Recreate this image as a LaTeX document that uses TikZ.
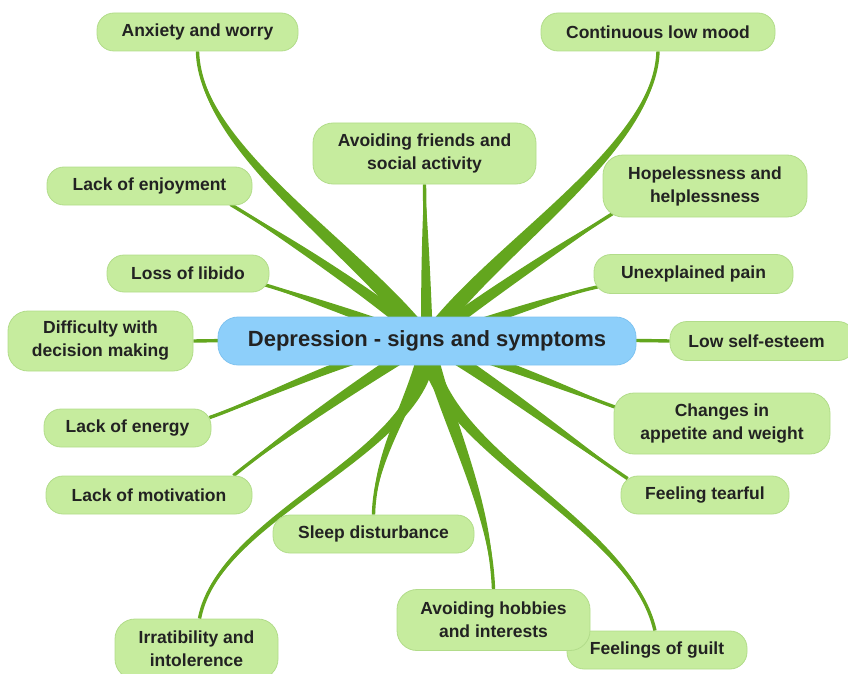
\documentclass[tikz,border=0pt]{standalone}
\usepackage{fontspec}
\setmainfont{Liberation Sans}
\usetikzlibrary{calc}
\pgfdeclarelayer{bg}
\pgfsetlayers{bg,main}
\definecolor{leaf}{HTML}{C6EC9E}
\definecolor{leafedge}{HTML}{B2DC8A}
\definecolor{hub}{HTML}{8DCFFA}
\definecolor{hubedge}{HTML}{7FC3F0}
\definecolor{stem}{HTML}{63A61E}
\definecolor{ink}{HTML}{222222}
\newcommand\stemto[5]{%
  \pgfmathsetmacro\wa{0.85*#5}%
  \pgfmathsetmacro\wb{0.55*#5}%
  \fill[stem] ($(#1)!#5pt!90:(#2)$) .. controls ($(#2)!\wa pt!-90:(#1)$) and ($(#3)!\wb pt!90:(#4)$) .. (#4)
     .. controls ($(#3)!\wb pt!-90:(#4)$) and ($(#2)!\wa pt!90:(#1)$) .. ($(#1)!#5pt!-90:(#2)$) -- cycle;
  \draw[stem, line width=3.4pt] (#1) .. controls (#2) and (#3) .. (#4);
}
\begin{document}
\begin{tikzpicture}[x=1pt,y=-1pt,
  leafnode/.style={draw=leafedge, line width=0.8pt, fill=leaf, rounded corners=17pt, text=ink,
    font=\bfseries\fontsize{17.5}{23}\selectfont, align=center, inner sep=0pt},
  hubnode/.style={draw=hubedge, line width=0.8pt, fill=hub, rounded corners=20pt, text=ink,
    font=\bfseries\fontsize{22}{26}\selectfont, inner sep=0pt}]
\useasboundingbox (0,0) rectangle (848,674);

\node[hubnode, minimum width=418pt, minimum height=48pt] (ctr) at (427,341) {Depression - signs and symptoms};

\node[leafnode, minimum width=201pt, minimum height=38pt] (anx) at (197.5,32) {Anxiety and worry};
\node[leafnode, minimum width=234pt, minimum height=38pt] (clm) at (658,32) {Continuous low mood};
\node[leafnode, minimum width=223pt, minimum height=61pt, rounded corners=20pt] (afr) at (424.5,153.5) {Avoiding friends and\\social activity};
\node[leafnode, minimum width=204pt, minimum height=62pt, rounded corners=20pt] (hop) at (705,186) {Hopelessness and\\helplessness};
\node[leafnode, minimum width=205pt, minimum height=38pt] (enj) at (149.5,186) {Lack of enjoyment};
\node[leafnode, minimum width=162pt, minimum height=37pt] (lib) at (188,273.5) {Loss of libido};
\node[leafnode, minimum width=199pt, minimum height=39pt] (pain) at (693.5,274) {Unexplained pain};
\node[leafnode, minimum width=185pt, minimum height=60pt, rounded corners=20pt] (dec) at (100.5,341) {Difficulty with\\decision making};
\node[leafnode, minimum width=185pt, minimum height=39pt] (self) at (762.5,341) {\hspace*{-12pt}Low self-esteem};
\node[leafnode, minimum width=167pt, minimum height=38pt] (ene) at (127.5,428) {Lack of energy};
\node[leafnode, minimum width=216pt, minimum height=61pt, rounded corners=20pt] (app) at (722,423.5) {Changes in\\appetite and weight};
\node[leafnode, minimum width=206pt, minimum height=38pt] (mot) at (149,495) {Lack of motivation};
\node[leafnode, minimum width=168pt, minimum height=38pt] (tear) at (705,495) {Feeling tearful};
\node[leafnode, minimum width=201pt, minimum height=38pt] (sleep) at (373.5,534) {Sleep disturbance};
\node[leafnode, minimum width=180pt, minimum height=38pt] (guilt) at (657,650) {Feelings of guilt};
\node[leafnode, minimum width=193pt, minimum height=61pt, rounded corners=20pt] (hob) at (493.5,620) {Avoiding hobbies\\and interests};
\node[leafnode, minimum width=163pt, minimum height=60pt, rounded corners=20pt] (irr) at (196.5,649) {Irratibility and\\intolerence};

\coordinate (hopE) at ($(hop.south west)+(12,-5)$);
\coordinate (enjE) at ($(enj.south east)+(-22,-1)$);
\coordinate (libE) at ($(lib.south east)+(-6,-8)$);
\coordinate (painE) at ($(pain.south west)+(4,-7)$);
\coordinate (eneE) at ($(ene.north east)+(-2,9)$);
\coordinate (appE) at ($(app.north west)+(3,15)$);
\coordinate (motE) at ($(mot.north east)+(-19,0)$);
\coordinate (tearE) at ($(tear.north west)+(7,3)$);
\coordinate (guiltE) at ($(guilt.north)+(-2,0)$);
\coordinate (irrE) at ($(irr.north)+(3,0)$);

\begin{pgfonlayer}{bg}
\stemto{ctr.center}{360,250}{200,150}{anx.south}{8}
\stemto{ctr.center}{490,250}{655,150}{clm.south}{8}
\stemto{ctr.center}{426,290}{425,230}{afr.south}{6}
\stemto{ctr.center}{480,300}{570,240}{hopE}{6.5}
\stemto{ctr.center}{380,300}{290,240}{enjE}{6.5}
\stemto{ctr.center}{370,320}{300,295}{libE}{5.5}
\stemto{ctr.center}{490,320}{560,295}{painE}{5.5}
\stemto{ctr.center}{350,340}{250,340}{dec.east}{3.4}
\stemto{ctr.center}{550,340}{620,340}{self.west}{3.4}
\stemto{ctr.center}{360,350}{260,400}{eneE}{5.5}
\stemto{ctr.center}{500,360}{580,395}{appE}{5.5}
\stemto{ctr.center}{380,370}{290,430}{motE}{6.5}
\stemto{ctr.center}{480,370}{570,440}{tearE}{6.5}
\stemto{ctr.center}{415,400}{375,450}{sleep.north}{6.5}
\stemto{ctr.center}{445,420}{490,500}{hob.north}{7.5}
\stemto{ctr.center}{430,450}{630,520}{guiltE}{8}
\stemto{ctr.center}{440,450}{220,510}{irrE}{8}
\end{pgfonlayer}
\end{tikzpicture}
\end{document}
